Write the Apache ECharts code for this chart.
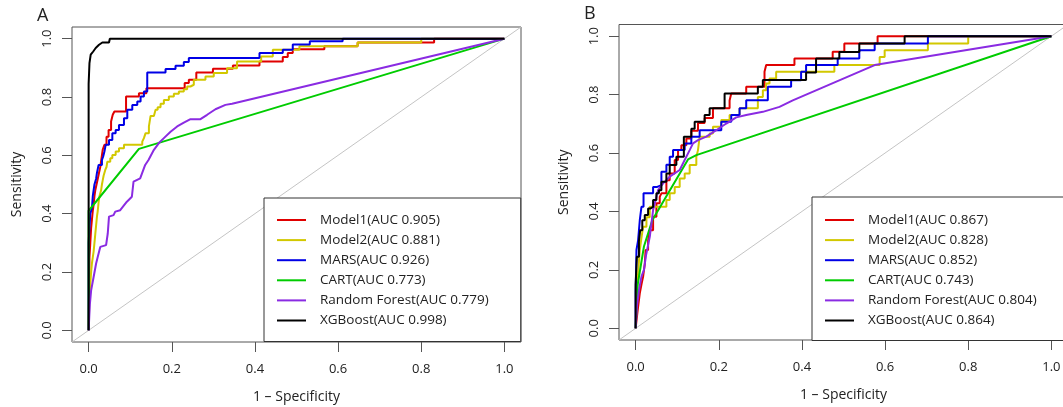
<!DOCTYPE html>
<html>
<head>
<meta charset="utf-8">
<script src="https://cdn.jsdelivr.net/npm/echarts@6/dist/echarts.min.js"></script>
<style>
  html, body { margin: 0; padding: 0; background: #fff; }
  #main { width: 1063px; height: 407px; }
</style>
</head>
<body>
<div id="main"></div>
<script>
// tick values shared by both panels
var ticks = [0, 0.2, 0.4, 0.6, 0.8, 1.0];
var modelNames = ['Model1', 'Model2', 'MARS', 'CART', 'Random Forest', 'XGBoost'];
var aucA = ['0.905', '0.881', '0.926', '0.773', '0.779', '0.998'];
var aucB = ['0.867', '0.828', '0.852', '0.743', '0.804', '0.864'];

// panel A, [1 - specificity, sensitivity]
var aModel1 = [[0,0],[0.002,0.25],[0.004,0.30],[0.006,0.35],[0.008,0.38],[0.010,0.41],[0.012,0.43],[0.014,0.46],[0.016,0.48],[0.019,0.50],[0.022,0.52],[0.025,0.54],[0.028,0.56],[0.031,0.59],[0.034,0.62],[0.038,0.636],[0.043,0.664],[0.048,0.687],[0.054,0.716],[0.058,0.739],[0.062,0.75],[0.09,0.802],[0.121,0.813],[0.139,0.830],[0.231,0.848],[0.241,0.859],[0.259,0.884],[0.299,0.897],[0.347,0.908],[0.411,0.922],[0.467,0.937],[0.479,0.951],[0.491,0.964],[0.567,0.974],[0.647,0.987],[0.831,1.0],[1,1]];
var aModel2 = [[0,0],[0.002,0.12],[0.004,0.16],[0.006,0.2],[0.008,0.23],[0.010,0.25],[0.012,0.27],[0.014,0.3],[0.016,0.33],[0.018,0.36],[0.020,0.39],[0.022,0.41],[0.024,0.44],[0.026,0.46],[0.028,0.47],[0.030,0.48],[0.032,0.5],[0.034,0.515],[0.036,0.53],[0.040,0.55],[0.043,0.56],[0.045,0.578],[0.052,0.59],[0.057,0.601],[0.065,0.613],[0.073,0.624],[0.085,0.636],[0.129,0.647],[0.133,0.659],[0.137,0.676],[0.145,0.699],[0.149,0.735],[0.157,0.739],[0.161,0.756],[0.166,0.765],[0.173,0.777],[0.181,0.790],[0.193,0.802],[0.205,0.811],[0.217,0.819],[0.229,0.827],[0.237,0.836],[0.245,0.842],[0.253,0.859],[0.281,0.870],[0.301,0.882],[0.333,0.899],[0.357,0.922],[0.415,0.939],[0.443,0.962],[0.507,0.974],[0.647,0.987],[0.80,1.0],[1,1]];
var aMars = [[0,0],[0,0.30],[0.004,0.40],[0.008,0.42],[0.010,0.46],[0.014,0.50],[0.018,0.52],[0.020,0.54],[0.024,0.567],[0.032,0.584],[0.035,0.596],[0.038,0.613],[0.041,0.636],[0.049,0.653],[0.057,0.676],[0.065,0.687],[0.073,0.704],[0.085,0.727],[0.093,0.756],[0.105,0.773],[0.117,0.785],[0.125,0.802],[0.133,0.819],[0.141,0.884],[0.185,0.896],[0.209,0.907],[0.229,0.920],[0.241,0.934],[0.411,0.951],[0.467,0.962],[0.491,0.98],[0.532,0.991],[0.611,1.0],[1,1]];
var aCart = [[0,0],[0,0.41],[0.121,0.622],[1,1]];
var aRf = [[0,0],[0.0015,0.046],[0.003,0.09],[0.006,0.137],[0.012,0.183],[0.018,0.229],[0.022,0.252],[0.028,0.286],[0.042,0.292],[0.046,0.332],[0.049,0.39],[0.06,0.395],[0.064,0.407],[0.076,0.412],[0.092,0.441],[0.104,0.458],[0.108,0.51],[0.124,0.521],[0.136,0.567],[0.144,0.584],[0.157,0.619],[0.169,0.642],[0.181,0.659],[0.197,0.681],[0.213,0.699],[0.229,0.712],[0.245,0.724],[0.269,0.724],[0.285,0.739],[0.305,0.758],[0.329,0.773],[0.345,0.777],[1,1]];
var aXgb = [[0,0],[0,0.845],[0.001,0.88],[0.002,0.916],[0.005,0.945],[0.011,0.956],[0.017,0.968],[0.025,0.979],[0.033,0.987],[0.049,0.987],[0.051,1],[1,1]];

// panel B
var bModel1 = [[0,0],[0.004,0.05],[0.006,0.074],[0.010,0.12],[0.014,0.15],[0.018,0.177],[0.022,0.22],[0.024,0.268],[0.030,0.30],[0.034,0.336],[0.042,0.382],[0.050,0.428],[0.058,0.45],[0.062,0.462],[0.074,0.507],[0.082,0.53],[0.094,0.576],[0.102,0.61],[0.110,0.627],[0.122,0.65],[0.134,0.676],[0.150,0.703],[0.166,0.72],[0.186,0.753],[0.226,0.78],[0.230,0.804],[0.266,0.827],[0.31,0.878],[0.314,0.901],[0.382,0.924],[0.474,0.947],[0.502,0.975],[0.582,1.0],[1,1]];
var bModel2 = [[0,0],[0.002,0.1],[0.004,0.15],[0.006,0.188],[0.008,0.23],[0.010,0.268],[0.014,0.31],[0.018,0.348],[0.026,0.38],[0.034,0.416],[0.074,0.439],[0.082,0.462],[0.094,0.484],[0.106,0.513],[0.118,0.53],[0.13,0.559],[0.146,0.587],[0.15,0.61],[0.154,0.656],[0.178,0.667],[0.186,0.69],[0.206,0.713],[0.226,0.73],[0.25,0.753],[0.294,0.792],[0.306,0.815],[0.314,0.838],[0.322,0.855],[0.338,0.878],[0.478,0.901],[0.587,0.929],[0.599,0.952],[0.703,0.975],[0.8,1.0],[1,1]];
var bMars = [[0,0],[0,0.12],[0.002,0.268],[0.006,0.302],[0.010,0.37],[0.014,0.416],[0.019,0.462],[0.042,0.484],[0.052,0.49],[0.062,0.536],[0.074,0.56],[0.082,0.587],[0.09,0.61],[0.118,0.633],[0.134,0.656],[0.154,0.678],[0.206,0.707],[0.23,0.73],[0.25,0.753],[0.266,0.781],[0.318,0.827],[0.374,0.849],[0.398,0.878],[0.41,0.901],[0.486,0.924],[0.538,0.952],[0.575,0.975],[0.703,1.0],[1,1]];
var bCart = [[0,0],[0.005,0.15],[0.02,0.28],[0.04,0.37],[0.126,0.578],[0.146,0.593],[1,1]];
var bRf = [[0,0],[0.003,0.074],[0.008,0.13],[0.014,0.177],[0.02,0.2],[0.025,0.25],[0.034,0.313],[0.042,0.405],[0.054,0.473],[0.066,0.496],[0.082,0.519],[0.106,0.542],[0.118,0.576],[0.13,0.61],[0.138,0.633],[0.15,0.644],[0.17,0.656],[0.194,0.678],[0.218,0.701],[0.242,0.722],[0.266,0.73],[0.306,0.741],[0.346,0.758],[0.378,0.78],[0.575,0.901],[1,1]];
var bXgb = [[0,0],[0,0.15],[0.003,0.245],[0.008,0.30],[0.011,0.336],[0.016,0.37],[0.022,0.388],[0.030,0.41],[0.035,0.416],[0.042,0.439],[0.050,0.462],[0.056,0.473],[0.062,0.502],[0.074,0.53],[0.082,0.559],[0.098,0.587],[0.116,0.656],[0.134,0.683],[0.142,0.707],[0.166,0.73],[0.178,0.753],[0.214,0.804],[0.294,0.827],[0.306,0.85],[0.41,0.876],[0.434,0.924],[0.49,0.946],[0.538,0.975],[0.647,1.0],[1,1]];

var diagonal = [[-0.04,-0.04],[1.04,1.04]];

var colors = ['#E00000', '#D2C800', '#0000E6', '#00CC00', '#8A2BE2', '#000000'];
var stepped = { A: [true, true, true, false, false, false], B: [true, true, true, false, false, true] };
var font = 'Open Sans';

var chart = echarts.init(document.getElementById('main'));

function xAxisFor(gi) {
    return {
        type: 'value', gridIndex: gi, min: -0.04, max: 1.04,
        name: '1 \u2013 Specificity', nameLocation: 'middle', nameGap: 48,
        nameTextStyle: { fontSize: 14, color: '#222', fontFamily: font },
        axisLine: { show: false, onZero: false },
        splitLine: { show: false },
        axisTick: { show: true, length: 10, customValues: ticks, lineStyle: { color: '#555' } },
        axisLabel: { customValues: ticks, margin: 21, fontSize: 13, color: '#222', fontFamily: font,
            formatter: function(v) { return v.toFixed(1); } }
    };
}

function yAxisFor(gi) {
    return {
        type: 'value', gridIndex: gi, min: -0.04, max: 1.04,
        name: 'Sensitivity', nameLocation: 'middle', nameGap: 48, nameRotate: 90,
        nameTextStyle: { fontSize: 14, color: '#222', fontFamily: font },
        axisLine: { show: false, onZero: false },
        splitLine: { show: false },
        axisTick: { show: true, length: 10, customValues: ticks, lineStyle: { color: '#555' } },
        axisLabel: { customValues: ticks, margin: 18, rotate: 90, fontSize: 13, color: '#222', fontFamily: font,
            formatter: function(v) { return v.toFixed(1); } }
    };
}

function panelSeries(gi, sets, aucs, steps) {
    var out = [{
        type: 'line', name: 'diag' + gi, xAxisIndex: gi, yAxisIndex: gi,
        data: diagonal, symbol: 'none', silent: true,
        lineStyle: { color: '#c4c4c4', width: 1 }
    }];
    for (var i = 0; i < sets.length; i++) {
        out.push({
            type: 'line', name: modelNames[i] + '(AUC ' + aucs[i] + ')',
            xAxisIndex: gi, yAxisIndex: gi, data: sets[i],
            step: steps[i] ? 'end' : false,
            symbol: 'none', color: colors[i],
            lineStyle: { color: colors[i], width: 2 }
        });
    }
    return out;
}

function legendFor(aucs, left, top, padding) {
    return {
        orient: 'vertical', left: left, top: top, padding: padding,
        itemGap: 6.1, itemWidth: 29, itemHeight: 14, selectedMode: false,
        icon: 'path://M0,0 L29,0 L29,2 L0,2 Z', symbolKeepAspect: true,
        borderColor: '#333', borderWidth: 1, backgroundColor: '#fff',
        textStyle: { fontSize: 13.5, color: '#222', fontFamily: font, padding: [0, 0, 0, 9] },
        data: modelNames.map(function(n, i) { return n + '(AUC ' + aucs[i] + ')'; })
    };
}

var option = {
    animation: false,
    textStyle: { fontFamily: font },
    title: [
        { text: 'A', left: 37, top: 7, padding: 0, textStyle: { fontSize: 18, fontWeight: 'normal', color: '#222', fontFamily: font } },
        { text: 'B', left: 584, top: 5, padding: 0, textStyle: { fontSize: 18, fontWeight: 'normal', color: '#222', fontFamily: font } }
    ],
    grid: [
        { left: 72, top: 27, width: 449, height: 315, show: true, borderColor: '#555', borderWidth: 1, containLabel: false, outerBoundsMode: 'none' },
        { left: 619, top: 24.5, width: 449, height: 315.5, show: true, borderColor: '#555', borderWidth: 1, containLabel: false, outerBoundsMode: 'none' }
    ],
    xAxis: [xAxisFor(0), xAxisFor(1)],
    yAxis: [yAxisFor(0), yAxisFor(1)],
    legend: [
        legendFor(aucA, 264, 198, [15, 32, 14, 13]),
        legendFor(aucB, 812, 197, [16, 80, 13, 13])
    ],
    series: panelSeries(0, [aModel1, aModel2, aMars, aCart, aRf, aXgb], aucA, stepped.A)
        .concat(panelSeries(1, [bModel1, bModel2, bMars, bCart, bRf, bXgb], aucB, stepped.B))
};

chart.setOption(option);
</script>
</body>
</html>
